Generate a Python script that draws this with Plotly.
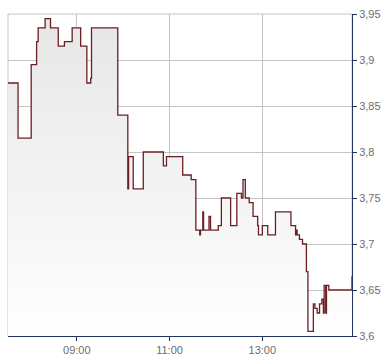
import plotly.graph_objects as go

day = "2024-01-01 "
times = ["07:31", "07:44", "08:01", "08:08", "08:10", "08:19", "08:26", "08:36", "08:44", "08:54",
         "09:05", "09:13", "09:18", "09:19", "09:53", "10:06", "10:07", "10:13", "10:26", "10:52",
         "10:56", "11:17", "11:28", "11:34", "11:39", "11:40", "11:43", "11:44", "11:51", "11:53",
         "12:03", "12:07", "12:19", "12:27", "12:33", "12:35", "12:38", "12:43", "12:48", "12:54",
         "12:55", "13:00", "13:07", "13:17", "13:37", "13:43", "13:44", "13:45", "13:48", "13:52",
         "13:57", "13:59", "14:06", "14:08", "14:11", "14:14", "14:17", "14:19", "14:20", "14:22",
         "14:23", "14:26", "14:56"]
prices = [3.875, 3.815, 3.895, 3.92, 3.935, 3.945, 3.935, 3.915, 3.92, 3.935,
          3.915, 3.875, 3.88, 3.935, 3.84, 3.76, 3.795, 3.76, 3.80, 3.785,
          3.795, 3.775, 3.77, 3.715, 3.71, 3.715, 3.735, 3.715, 3.73, 3.715,
          3.72, 3.75, 3.72, 3.755, 3.75, 3.77, 3.75, 3.745, 3.73, 3.72,
          3.71, 3.72, 3.71, 3.735, 3.72, 3.71, 3.715, 3.71, 3.705, 3.70,
          3.67, 3.605, 3.635, 3.63, 3.625, 3.635, 3.64, 3.625, 3.655, 3.625,
          3.655, 3.65, 3.665]
y_ticks = [3.6, 3.65, 3.7, 3.75, 3.8, 3.85, 3.9, 3.95]
x_ticks = ["09:00", "11:00", "13:00"]

x = [day + t for t in times]

fig = go.Figure()
fig.add_trace(go.Scatter(
    x=x, y=prices, mode="lines", line=dict(color="#6b1f24", width=1.3, shape="hv"),
    fill="tozeroy",
    fillgradient=dict(type="vertical", start=3.6, stop=3.95,
                      colorscale=[[0, "#ffffff"], [1, "#e6e6e6"]]),
    hoverinfo="skip", showlegend=False,
))

navy = "#1f3560"
fig.update_layout(
    width=390, height=364,
    margin=dict(l=8, r=38, t=11, b=24),
    paper_bgcolor="white", plot_bgcolor="white",
    separators=", ",
    font=dict(family="Liberation Sans, Arial, sans-serif", size=11, color="#6d6d6d"),
    xaxis=dict(
        type="date",
        range=[day + "07:31", day + "14:56"],
        tickvals=[day + t for t in x_ticks],
        ticktext=x_ticks,
        showgrid=True, gridcolor="#c4c4c4", gridwidth=1,
        showline=True, linecolor=navy, linewidth=1,
        ticks="outside", ticklen=4, tickcolor=navy,
        zeroline=False,
    ),
    yaxis=dict(
        side="right",
        range=[3.6, 3.95],
        tickvals=y_ticks,
        tickformat=".2~f",
        showgrid=True, gridcolor="#c4c4c4", gridwidth=1,
        showline=True, linecolor=navy, linewidth=1,
        ticks="outside", ticklen=4, tickcolor=navy,
        zeroline=False,
    ),
    shapes=[dict(type="rect", xref="paper", yref="paper", x0=0, x1=1, y0=0, y1=1,
                 line=dict(color="#c4c4c4", width=1), layer="below")],
)

fig.write_html("out.html")
